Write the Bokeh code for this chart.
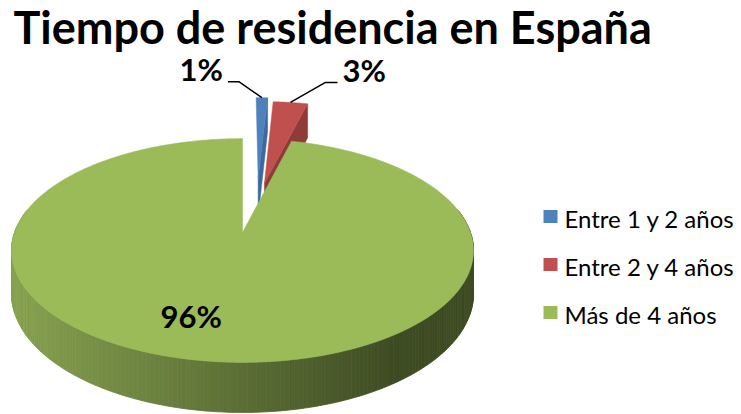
import numpy as np
from bokeh.plotting import figure
from bokeh.models import Range1d, ColumnDataSource
from bokeh.core.properties import value
from bokeh.embed import file_html
from bokeh.resources import INLINE

# ---------------- data ----------------
title_text = "Tiempo de residencia en España"
categories = ["Entre 1 y 2 años", "Entre 2 y 4 años", "Más de 4 años"]
values = [1, 3, 96]
pct_labels = ["1%", "3%", "96%"]

# ---------------- styles ----------------
top_colors = ["#4F81BD", "#C0504D", "#9BBB59"]
side_colors = ["#3E68A0", "#8F3B39", "#5E7436"]
wall_light = np.array([0x86, 0xA1, 0x4F], float)
wall_dark = np.array([0x3E, 0x4B, 0x23], float)
explode = [0.55, 0.50, 0.0]
explode_shift = [6.0, 3.0, 0.0]

W, H = 741, 414
CX, CY = 242.0, 232.0          # pie centre (page pixels)
RX, RZ, K, THICK = 228.0, 109.0, 0.161, 42.0
FONT = "Lato"


def proj(X, Z, h=0.0):
    X = np.asarray(X, float)
    Z = np.asarray(Z, float)
    h = np.asarray(h, float)
    d = 1.0 - K * Z
    return CX + RX * X / d, CY + (RZ * Z + THICK * h) / d


def rim(theta_deg, ox=0.0, oz=0.0, r=1.0):
    t = np.radians(theta_deg)
    return ox + r * np.sin(t), oz - r * np.cos(t)


total = float(sum(values))
bounds = np.concatenate([[0.0], np.cumsum(values) / total * 360.0])

p = figure(width=W, height=H, x_range=Range1d(0, W), y_range=Range1d(H, 0),
           output_backend="svg", toolbar_location=None, min_border=0,
           x_axis_location=None, y_axis_location=None)
p.xgrid.visible = False
p.ygrid.visible = False
p.outline_line_color = None
p.background_fill_color = "white"
p.border_fill_color = "white"

anchors = []
# ---------- exploded slices ----------
for i in range(len(values)):
    if explode[i] == 0:
        anchors.append(None)
        continue
    a0, a1 = bounds[i], bounds[i + 1]
    mid = (a0 + a1) / 2.0
    md = np.radians(mid + explode_shift[i])
    ox, oz = explode[i] * np.sin(md), -explode[i] * np.cos(md)
    # end (cut) face
    ex, ez = rim(a1, ox, oz)
    fx, fy = proj([ox, ex, ex, ox], [oz, ez, ez, oz], [0, 0, 1, 1])
    p.patch(list(fx), list(fy), fill_color=side_colors[i], line_color=side_colors[i], line_width=0.5)
    # top face
    th = np.linspace(a0, a1, 30)
    rx_, rz_ = rim(th, ox, oz)
    sx, sy = proj(np.concatenate([[ox], rx_]), np.concatenate([[oz], rz_]))
    p.patch(list(sx), list(sy), fill_color=top_colors[i], line_color=top_colors[i], line_width=0.5)
    mx, mz = rim(mid, ox, oz)
    ax_, ay_ = proj(mx, mz)
    anchors.append((float(ax_), float(ay_)))

# ---------- big slice: wall with gradient ----------
gi = 2
th = np.linspace(78, 282, 205)
wx, wz = rim(th)
tx, ty = proj(wx, wz, 0)
bx, by = proj(wx, wz, 1)
xs, ys, cols = [], [], []
for j in range(len(th) - 1):
    qx = [tx[j], tx[j + 1], bx[j + 1], bx[j]]
    qy = [ty[j], ty[j + 1], by[j + 1], by[j]]
    xm = np.mean(qx)
    t = np.clip((xm - 15.0) / (395.0 - 15.0), 0, 1)
    c = wall_light + (wall_dark - wall_light) * t
    col = "#%02x%02x%02x" % tuple(int(round(v)) for v in c)
    xs.append([float(v) for v in qx])
    ys.append([float(v) for v in qy])
    cols.append(col)
p.patches("xs", "ys", source=ColumnDataSource(dict(xs=xs, ys=ys, c=cols)),
          fill_color="c", line_color="c", line_width=0.8)

# ---------- big slice: top face ----------
a0, a1 = bounds[gi], bounds[gi + 1]
th = np.linspace(a0, a1, 500)
rx_, rz_ = rim(th)
sx, sy = proj(np.concatenate([[0.0], rx_]), np.concatenate([[0.0], rz_]))
p.patch(list(sx), list(sy), fill_color=top_colors[gi], line_color=top_colors[gi], line_width=0.5)

# ---------- data labels ----------
lab_font = "31px"
mid = (a0 + a1) / 2.0
lx, lz = rim(mid, r=0.72)
lsx, lsy = proj(lx, lz)
p.text(x=[float(lsx) - 28], y=[float(lsy) - 4], text=[pct_labels[gi]], text_font=value(FONT),
       text_font_style="bold", text_font_size=lab_font, text_align="center",
       text_baseline="alphabetic", text_color="black")

# leader lines for exploded slices
elbow = {0: (-23.0, -16.0), 1: (35.0, -20.0)}
run = {0: -11.0, 1: 12.0}
for i, anc in enumerate(anchors):
    if anc is None:
        continue
    ex_, ey_ = anc[0] + elbow[i][0], anc[1] + elbow[i][1]
    endx = ex_ + run[i]
    p.line([anc[0], ex_, endx], [anc[1], ey_, ey_], line_color="black", line_width=1.5)
    if run[i] < 0:
        p.text(x=[endx - 5], y=[ey_ - 13], text=[pct_labels[i]], text_font=value(FONT),
               text_font_style="bold", text_font_size=lab_font, text_align="right",
               text_baseline="alphabetic", text_color="black")
    else:
        p.text(x=[endx + 5], y=[ey_ - 12], text=[pct_labels[i]], text_font=value(FONT),
               text_font_style="bold", text_font_size=lab_font, text_align="left",
               text_baseline="alphabetic", text_color="black")

# ---------- title ----------
p.text(x=[13], y=[26], text=[title_text], text_font=value(FONT), text_font_style="bold",
       text_font_size="45px", text_baseline="alphabetic", text_color="black")

# ---------- legend ----------
leg_x, leg_y0, leg_dy = 550.0, 216.0, 48.0
ly = [leg_y0 + k * leg_dy for k in range(len(categories))]
p.rect(x=[leg_x] * len(categories), y=ly, width=14, height=13, fill_color=top_colors,
       line_color=None)
p.text(x=[leg_x + 14] * len(categories), y=[v + 2 for v in ly], text=categories,
       text_font=value(FONT), text_font_size="24px", text_baseline="alphabetic",
       text_color="black")

open("out.html", "w").write(file_html(p, INLINE))
